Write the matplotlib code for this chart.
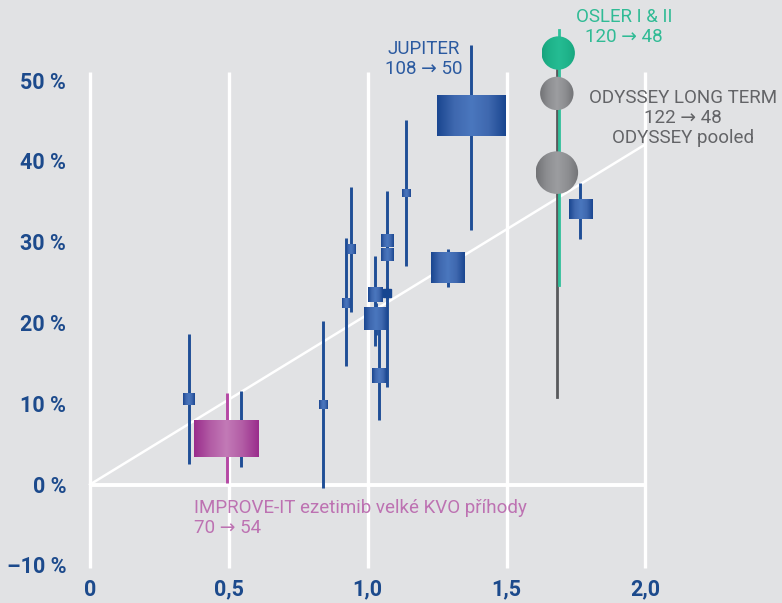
import numpy as np
import matplotlib.pyplot as plt
from matplotlib.colors import LinearSegmentedColormap
from matplotlib.patches import Ellipse

plt.rcParams['font.family'] = ['Roboto', 'DejaVu Sans']

# jednotlivé studie: pokles LDL (mmol/l) a relativní pokles rizika (%)
trial_x = [0.356, 0.545, 0.839, 0.923, 0.939, 1.028, 1.029, 1.042, 1.071, 1.071, 1.070, 1.139, 1.289, 1.372, 1.766]
trial_y = [10.6, 5.5, 9.9, 22.5, 29.1, 23.5, 20.5, 13.5, 30.2, 28.4, 23.7, 36.0, 26.9, 45.6, 34.0]
trial_lo = [2.5, 2.2, -0.4, 14.7, 21.4, 17.1, 18.5, 8.0, 29.0, 12.1, 23.0, 27.0, 24.4, 31.5, 30.4]
trial_hi = [18.6, 11.6, 20.2, 30.5, 36.8, 28.3, 22.5, 19.7, 31.5, 36.3, 24.5, 45.1, 29.2, 54.4, 37.3]

# IMPROVE-IT
imp_x, imp_y, imp_lo, imp_hi = 0.492, 5.7, 0.2, 11.3

# OSLER I & II, ODYSSEY LONG TERM, ODYSSEY pooled
pcsk9_x = [1.686, 1.681, 1.681]
pcsk9_y = [53.4, 48.4, 38.6]
osler_lo, osler_hi = 24.7, 56.3
odyssey_lo, odyssey_hi = 10.8, 51.3

# regresní přímka
fit_x = [0.0, 2.0]
fit_y = [0.0, 42.1]

y_ticks = [50, 40, 30, 20, 10, 0, -10]
x_ticks = [0, 0.5, 1.0, 1.5, 2.0]
x_tick_labels = ['0', '0,5', '1,0', '1,5', '2,0']

BG = '#e1e2e4'
NAVY = '#1c4a8c'
BLUE_LINE = '#1f4e96'

PX_X = 277.7   # pixels per unit on x
PX_Y = 8.08    # pixels per percent on y

fig = plt.figure(figsize=(7.82, 6.03), dpi=100)
fig.patch.set_facecolor(BG)
ax = fig.add_axes([0, 0, 1, 1])
ax.set_facecolor(BG)
ax.axis('off')

blue_cm = LinearSegmentedColormap.from_list('b', ['#4a77be', '#3f68af', '#1a4690'])
mag_cm = LinearSegmentedColormap.from_list('m', ['#c27ab7', '#b25ca5', '#9a2d8c'])
gray_cm = LinearSegmentedColormap.from_list('g', ['#9c9da0', '#8d8e91', '#727376'])
green_cm = LinearSegmentedColormap.from_list('o', ['#25bc93', '#1fb48b', '#17a47d'])
grad = np.abs(np.linspace(-1, 1, 128))[None, :]


def grad_box(cx, cy, wpx, hpx, cmap, z=5):
    w, h = wpx / PX_X / 2, hpx / PX_Y / 2
    ax.imshow(grad, extent=(cx - w, cx + w, cy - h, cy + h), cmap=cmap,
              vmin=0, vmax=1, aspect='auto', interpolation='bilinear', zorder=z)


def grad_disc(cx, cy, rpx, cmap, z=6):
    w, h = rpx / PX_X, rpx / PX_Y
    im = ax.imshow(grad, extent=(cx - w, cx + w, cy - h, cy + h), cmap=cmap,
                   vmin=0, vmax=1, aspect='auto', interpolation='bilinear', zorder=z)
    im.set_clip_path(Ellipse((cx, cy), 2 * w, 2 * h, transform=ax.transData))


# mřížka
for xv in x_ticks:
    ax.plot([xv, xv], [-10.3, 51.0], color='white', lw=2.4, zorder=1, solid_capstyle='butt')
ax.plot([0, 2.0], [0, 0], color='white', lw=2.8, zorder=1, solid_capstyle='butt')
ax.plot(fit_x, fit_y, color='white', lw=1.8, zorder=2)

# studie se statiny
box_px = [(12, 12), (8, 8), (8.7, 9), (8.7, 9.7), (10, 10), (15, 14.5), (23.3, 22.7),
          (14.7, 14.7), (13, 12.7), (13, 12.7), (8, 7.7), (8.7, 7.7), (34, 31), (69, 40.7), (23, 19)]
for i, (x, y, lo, hi) in enumerate(zip(trial_x, trial_y, trial_lo, trial_hi)):
    ax.plot([x, x], [lo, hi], color=BLUE_LINE, lw=2.1, zorder=3, solid_capstyle='butt')
    w, h = box_px[i]
    if i == 10:
        ax.add_patch(plt.Rectangle((x - w / PX_X / 2, y - h / PX_Y / 2), w / PX_X, h / PX_Y,
                                   color='#174690', zorder=5))
    else:
        grad_box(x, y, w, h, blue_cm)

# IMPROVE-IT
ax.plot([imp_x, imp_x], [imp_lo, imp_hi], color='#b548a4', lw=2.1, zorder=3, solid_capstyle='butt')
grad_box(imp_x, imp_y, 64.7, 36.7, mag_cm, z=6)

# PCSK9
ax.plot([pcsk9_x[1] - 0.001, pcsk9_x[1] - 0.001], [odyssey_lo, odyssey_hi], color='#58595c', lw=2.0, zorder=3)
ax.plot([pcsk9_x[0] + 0.002, pcsk9_x[0] + 0.002], [osler_lo, osler_hi], color='#2fc09a', lw=2.0, zorder=4)
grad_disc(pcsk9_x[0], pcsk9_y[0], 16.7, green_cm)
grad_disc(pcsk9_x[1], pcsk9_y[1], 16.7, gray_cm)
grad_disc(pcsk9_x[2], pcsk9_y[2], 21.3, gray_cm)

# popisky
note = dict(fontsize=13.5, fontweight='normal', linespacing=1.15, zorder=8)
ax.text(1.203, 52.7, 'JUPITER\n108 → 50', ha='center', va='center', color='#2b5aa0', **note)
ax.text(1.923, 56.6, 'OSLER I & II\n120 → 48', ha='center', va='center', color='#30bb95', **note)
ax.text(2.134, 45.4, 'ODYSSEY LONG TERM\n122 → 48\nODYSSEY pooled', ha='center', va='center',
        color='#636467', **note)
ax.text(0.3745, -4.1, 'IMPROVE-IT ezetimib velké KVO příhody\n70 → 54', ha='left', va='center',
        color='#bd72b2', **note)

# osy
for v in y_ticks:
    lab = f'{v} %' if v >= 0 else f'–{abs(v)} %'
    ax.text(-24 / PX_X, v - 0.25, lab, ha='right', va='center', fontsize=15.5, fontweight='bold', color=NAVY)
for xv, lab in zip(x_ticks, x_tick_labels):
    ax.text(xv, -13.0, lab, ha='center', va='center', fontsize=15.5, fontweight='bold', color=NAVY)

ax.set_xlim(-90 / PX_X, 692 / PX_X)
ax.set_ylim((484.5 - 603) / PX_Y, 484.5 / PX_Y)

fig.savefig('out.png', dpi=100, facecolor=BG)
